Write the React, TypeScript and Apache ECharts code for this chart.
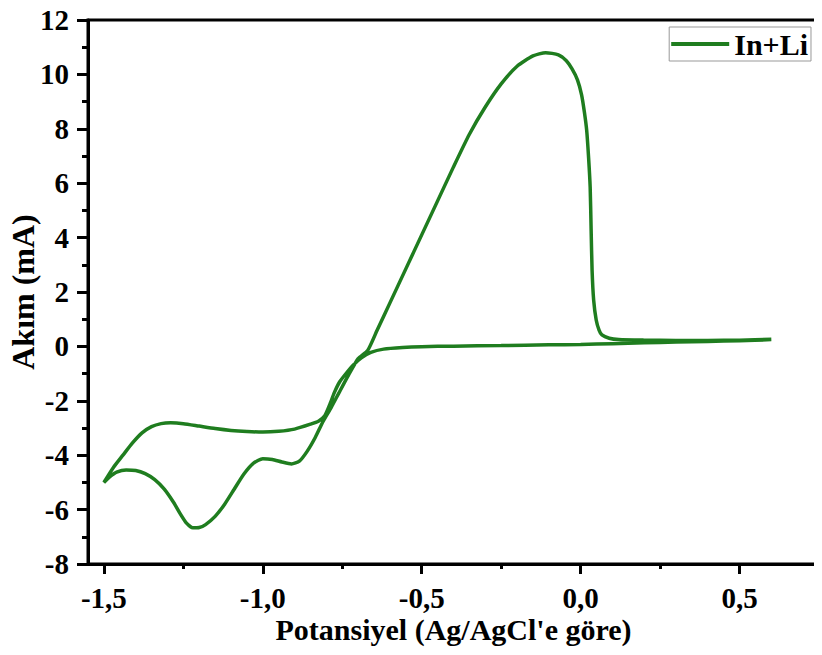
import React, { useEffect, useRef } from "react";
import * as echarts from "echarts";

// Cyclic voltammogram: scan starts at +0.6 V, goes cathodic to -1.5 V, returns
const potential: number[] = [
  0.6, 0.5, 0.4, 0.3, 0.2, 0.1, 0.0, -0.1, -0.25, -0.4, -0.5, -0.56, -0.62, -0.66, -0.69, -0.715,
  -0.735, -0.758, -0.775, -0.788, -0.805, -0.825, -0.85, -0.9, -0.95, -1.0, -1.05, -1.1, -1.15,
  -1.2, -1.25, -1.29, -1.32, -1.35, -1.38, -1.41, -1.44, -1.47, -1.5,
  -1.48, -1.46, -1.43, -1.4, -1.37, -1.34, -1.31, -1.28, -1.26, -1.24, -1.22, -1.2, -1.18, -1.15,
  -1.12, -1.09, -1.06, -1.03, -1.0, -0.97, -0.94, -0.91, -0.885, -0.86, -0.835, -0.81, -0.785,
  -0.76, -0.73, -0.7, -0.67, -0.64, -0.6, -0.55, -0.5, -0.45, -0.4, -0.35, -0.3, -0.25, -0.2,
  -0.15, -0.11, -0.07, -0.045, -0.027, -0.01, 0.003, 0.012, 0.019, 0.025, 0.03, 0.033, 0.036,
  0.041, 0.049, 0.058, 0.067, 0.09, 0.12, 0.2, 0.3, 0.4, 0.5, 0.6,
];
const current: number[] = [
  0.24, 0.21, 0.18, 0.16, 0.13, 0.1, 0.07, 0.06, 0.03, 0.01, -0.01, -0.04, -0.1, -0.22, -0.42, -0.68,
  -0.95, -1.3, -1.7, -2.1, -2.55, -2.75, -2.86, -3.04, -3.12, -3.15, -3.13, -3.09, -3.02,
  -2.93, -2.84, -2.81, -2.84, -2.95, -3.18, -3.55, -4.0, -4.45, -5.0,
  -4.78, -4.62, -4.54, -4.56, -4.68, -4.9, -5.25, -5.75, -6.15, -6.5, -6.67, -6.66, -6.55, -6.25,
  -5.8, -5.25, -4.7, -4.3, -4.13, -4.16, -4.25, -4.32, -4.22, -3.85, -3.35, -2.75, -2.25,
  -1.7, -1.05, -0.45, -0.15, 0.6, 1.6, 2.85, 4.1, 5.35, 6.6, 7.8, 8.8, 9.65, 10.3,
  10.68, 10.8, 10.72, 10.5, 10.2, 9.8, 9.25, 8.6, 7.95, 6.95, 5.86, 4.3, 2.81,
  1.7, 0.97, 0.6, 0.42, 0.3, 0.25, 0.23, 0.22, 0.22, 0.23, 0.26,
];

const xMajorTicks: number[] = [-1.5, -1.0, -0.5, 0.0, 0.5];
const xMinorTicks: number[] = [-1.25, -0.75, -0.25, 0.25, 0.75];
const seriesName = "In+Li";
const xTitle = "Potansiyel (Ag/AgCl'e göre)";
const yTitle = "Akım (mA)";

const FONT = "'Liberation Serif', 'Times New Roman', serif";

export default function App() {
  const ref = useRef<HTMLDivElement>(null);
  useEffect(() => {
    if (!ref.current) return;
    const chart = echarts.init(ref.current, undefined, { renderer: "svg" });
    const data = potential.map((x, i) => [x, current[i]]);
    const fmt = (v: number) => v.toFixed(1).replace(".", ",");
    chart.setOption({
      animation: false,
      backgroundColor: "#ffffff",
      grid: {
        left: 88,
        right: 3,
        top: 20,
        bottom: 91,
        containLabel: false,
        outerBoundsMode: "none",
        show: true,
        borderColor: "#000",
        borderWidth: 3,
      },
      legend: {
        data: [seriesName],
        right: 11,
        top: 27,
        icon: "rect",
        itemWidth: 58,
        itemHeight: 4,
        borderColor: "#999",
        borderWidth: 1,
        padding: [2, 3, 2, 2],
        textStyle: { fontFamily: FONT, fontWeight: "bold", fontSize: 30, color: "#000" },
      },
      xAxis: [
        {
          type: "value",
          position: "bottom",
          min: -1.55,
          max: 0.75,
          name: xTitle,
          nameLocation: "middle",
          nameGap: 50,
          nameMoveOverlap: false,
          nameTextStyle: { fontFamily: FONT, fontWeight: "bold", fontSize: 30, color: "#000" },
          axisLine: { show: true, onZero: false, lineStyle: { color: "#000", width: 3 } },
          axisTick: { show: true, length: 10, customValues: xMajorTicks, lineStyle: { color: "#000", width: 3 } },
          axisLabel: {
            customValues: xMajorTicks,
            formatter: (v: number) => fmt(v),
            margin: 19,
            fontFamily: FONT,
            fontWeight: "bold",
            fontSize: 29,
            color: "#000",
          },
          splitLine: { show: false },
        },
        {
          type: "value",
          position: "bottom",
          min: -1.55,
          max: 0.75,
          axisLine: { show: false, onZero: false },
          axisTick: { show: true, length: 5, customValues: xMinorTicks, lineStyle: { color: "#000", width: 3 } },
          axisLabel: { show: false },
          splitLine: { show: false },
        },
      ],
      yAxis: {
        type: "value",
        min: -8,
        max: 12,
        interval: 2,
        name: yTitle,
        nameLocation: "middle",
        nameGap: 49,
        nameMoveOverlap: false,
        nameTextStyle: { fontFamily: FONT, fontWeight: "bold", fontSize: 32, color: "#000" },
        axisLine: { show: true, onZero: false, lineStyle: { color: "#000", width: 3 } },
        axisTick: { show: true, length: 11, lineStyle: { color: "#000", width: 3 } },
        minorTick: { show: true, splitNumber: 2, length: 6, lineStyle: { color: "#000", width: 3 } },
        axisLabel: {
          margin: 19,
          fontFamily: FONT,
          fontWeight: "bold",
          fontSize: 29,
          color: "#000",
        },
        splitLine: { show: false },
      },
      series: [
        {
          name: seriesName,
          type: "line",
          xAxisIndex: 0,
          data,
          showSymbol: false,
          symbol: "none",
          smooth: 0.2,
          lineStyle: { color: "#1f7d1f", width: 3.5 },
          itemStyle: { color: "#1f7d1f" },
        },
      ],
    });
    return () => chart.dispose();
  }, []);
  return <div ref={ref} style={{ width: 822, height: 655, margin: -8 }} />;
}
